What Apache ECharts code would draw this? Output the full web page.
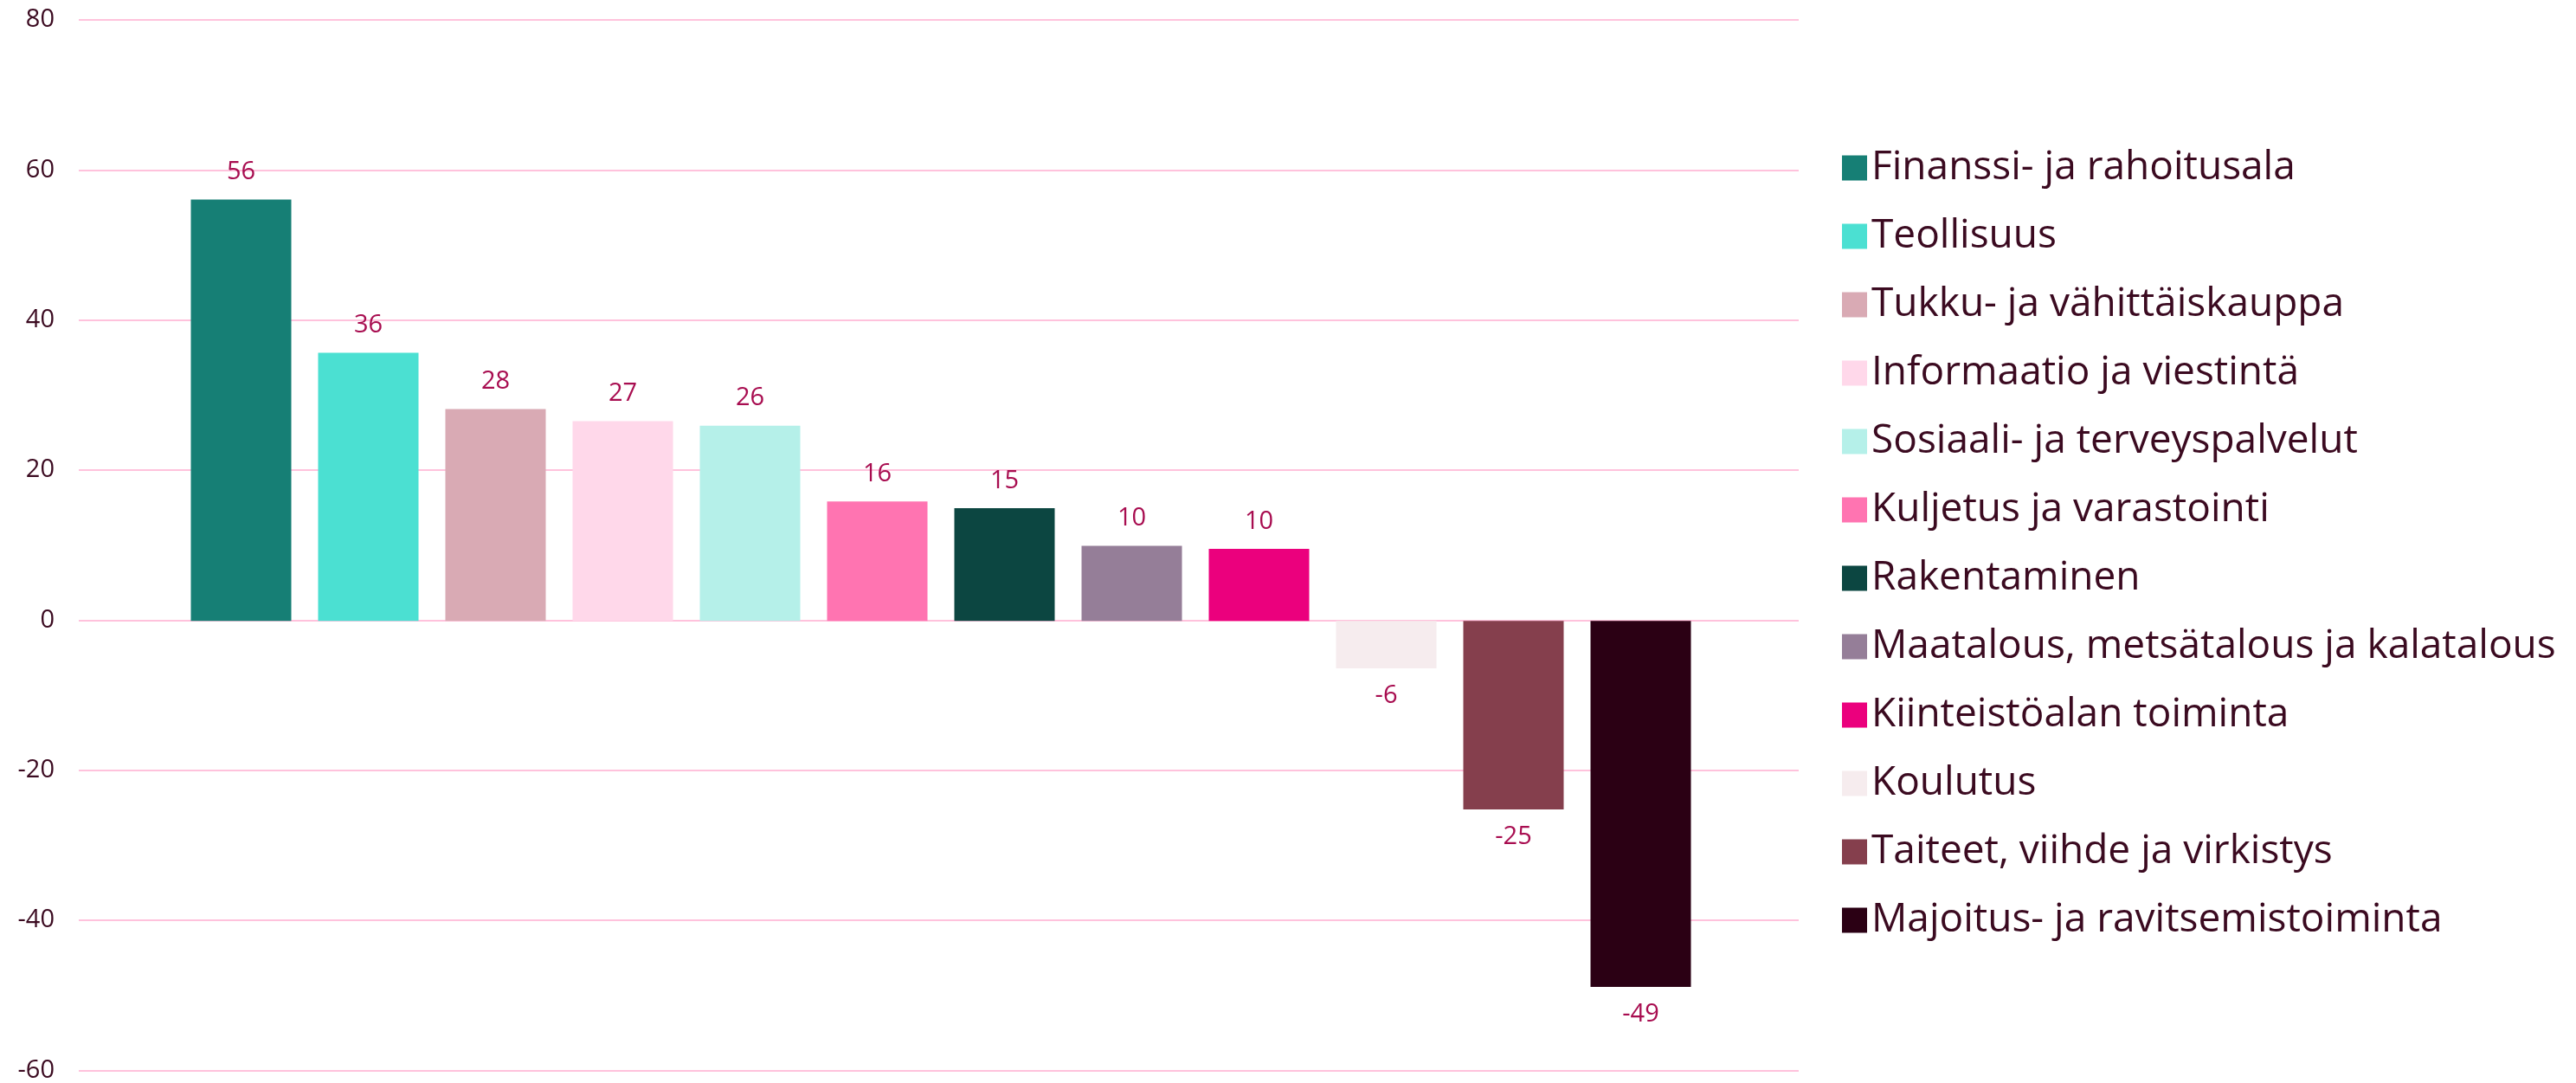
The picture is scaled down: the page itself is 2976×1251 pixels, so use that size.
<!DOCTYPE html>
<html>
<head>
<meta charset="utf-8">
<script src="https://cdn.jsdelivr.net/npm/echarts@6/dist/echarts.min.js"></script>
<style>
  html, body { margin: 0; padding: 0; background: #fff; }
  #main { width: 2976px; height: 1251px; }
</style>
</head>
<body>
<div id="main"></div>
<script>
// toimialat, arvot ja värit
const categories = [
  'Finanssi- ja rahoitusala',
  'Teollisuus',
  'Tukku- ja vähittäiskauppa',
  'Informaatio ja viestintä',
  'Sosiaali- ja terveyspalvelut',
  'Kuljetus ja varastointi',
  'Rakentaminen',
  'Maatalous, metsätalous ja kalatalous',
  'Kiinteistöalan toiminta',
  'Koulutus',
  'Taiteet, viihde ja virkistys',
  'Majoitus- ja ravitsemistoiminta'
];
const values = [56.1, 35.7, 28.2, 26.6, 26.0, 15.9, 15.0, 10.0, 9.6, -6.3, -25.1, -48.7];
const colors = ['#167F75', '#4BE0D2', '#D9AAB4', '#FFD8EA', '#B5F0E9', '#FF74B1',
                '#0C4641', '#957E98', '#EB007D', '#F6ECEE', '#853F4D', '#2B0014'];
const yTicks = { min: -60, max: 80, step: 20 };

const textDark = '#3B0A20';
const labelColor = '#A80D50';
const gridColor = '#FFC2DC';

let series = categories.map((name, i) => ({
  name: name,
  type: 'bar',
  stack: 'all',
  xAxisIndex: 1,
  yAxisIndex: 1,
  barWidth: 116,
  itemStyle: { color: colors[i] },
  label: {
    show: true,
    color: labelColor,
    fontFamily: 'Open Sans',
    fontSize: 29,
    distance: 17,
    formatter: p => Math.round(p.value)
  },
  data: values.map((v, j) => j === i
    ? { value: v, label: { position: v < 0 ? 'bottom' : 'top' } }
    : '-')
}));

let option = {
  animation: false,
  backgroundColor: '#fff',
  grid: [
    { left: 91, top: 23, width: 1987, height: 1215 },
    { left: 205, top: 23, width: 1764, height: 1215 }
  ],
  xAxis: [
    { type: 'category', gridIndex: 0, data: categories, show: false },
    { type: 'category', gridIndex: 1, data: categories, show: false }
  ],
  yAxis: [
    {
      type: 'value', gridIndex: 0,
      min: yTicks.min, max: yTicks.max, interval: yTicks.step,
      axisLine: { show: false },
      axisTick: { show: false },
      axisLabel: { color: textDark, fontFamily: 'Open Sans', fontSize: 29, margin: 28 },
      splitLine: { lineStyle: { color: gridColor, width: 2 } }
    },
    {
      type: 'value', gridIndex: 1,
      min: yTicks.min, max: yTicks.max, interval: yTicks.step,
      show: false, splitLine: { show: false }
    }
  ],
  legend: {
    orient: 'vertical',
    left: 2123,
    top: 164,
    icon: 'rect',
    itemWidth: 29,
    itemHeight: 29,
    itemGap: 29,
    itemTextGap: 21,
    textStyle: { color: textDark, fontFamily: 'Open Sans', fontSize: 46, lineHeight: 50 },
    data: categories
  },
  series: series
};

let myChart = echarts.init(document.getElementById('main'));
myChart.setOption(option);
</script>
</body>
</html>
